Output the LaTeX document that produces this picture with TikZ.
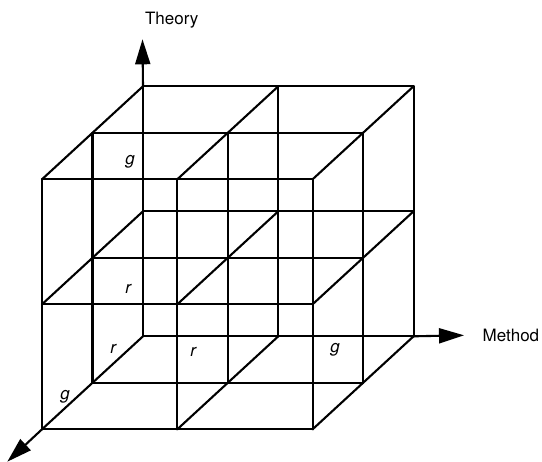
\documentclass[tikz,border=0pt]{standalone}
\usepackage{fontspec}
\setmainfont{TeX Gyre Heros}
\usetikzlibrary{arrows.meta}
\begin{document}
\begin{tikzpicture}[x=1pt,y=-1pt,
  grid/.style={line width=2.1pt,line cap=round,line join=round},
  axis/.style={line width=2.1pt,-{Triangle[length=25pt,width=15pt]}},
  axlabel/.style={font=\fontsize{17}{20}\selectfont,inner sep=0pt},
  cell/.style={font=\fontsize{17}{20}\selectfont\itshape,inner sep=0pt}]
\useasboundingbox (0,0) rectangle (542,462);
% lattice points: i = method, j = theory, k = depth (0 front, 2 back)
\foreach \i in {0,1,2}{
  \foreach \j in {0,1,2}{
    \foreach \k in {0,1,2}{
      \coordinate (p-\i-\j-\k) at ({42+135.3*\i+50.5*\k},{429.3-125*\j-46.5*\k});
    }}}
\foreach \a in {0,1,2}{
  \foreach \b in {0,1,2}{
    \draw[grid] (p-0-\a-\b) -- (p-2-\a-\b);
    \draw[grid] (p-\a-0-\b) -- (p-\a-2-\b);
    \draw[grid] (p-\a-\b-0) -- (p-\a-\b-2);
  }}
% axes
\coordinate (tipT) at (142.5,39.3);
\coordinate (tipM) at (464,335.3);
\coordinate (tipD) at (7.3,461.7);
\draw[axis] (p-0-2-2) -- (tipT);
\draw[axis] (p-2-0-2) -- (tipM);
\draw[axis] (p-0-0-0) -- (tipD);
\node[axlabel] (theory) at (171.7,20) {Theory};
\node[axlabel,anchor=west] (method) at (482.5,335) {Method};
% cell labels
\node[cell] (g1) at (130,162) {g};
\node[cell] (r1) at (128.3,288.5) {r};
\node[cell] (r2) at (113.3,348.5) {r};
\node[cell] (r3) at (193.3,351.7) {r};
\node[cell] (g2) at (65,396.7) {g};
\node[cell] (g3) at (335,350) {g};
\end{tikzpicture}
\end{document}
